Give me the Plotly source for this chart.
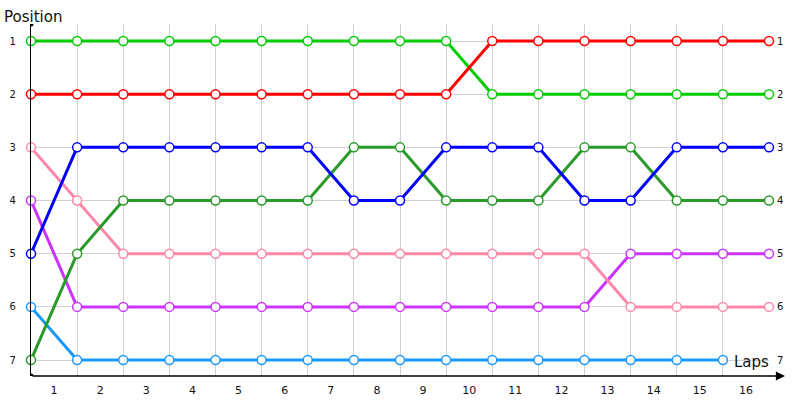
import plotly.graph_objects as go

# ---- data ----
points = list(range(17))          # 0 = grid, k = after lap k
lap_labels = [str(i) for i in range(1, 17)]
positions = [1, 2, 3, 4, 5, 6, 7]

light_green = [1, 1, 1, 1, 1, 1, 1, 1, 1, 1, 2, 2, 2, 2, 2, 2, 2]
red = [2, 2, 2, 2, 2, 2, 2, 2, 2, 2, 1, 1, 1, 1, 1, 1, 1]
blue = [5, 3, 3, 3, 3, 3, 3, 4, 4, 3, 3, 3, 4, 4, 3, 3, 3]
dark_green = [7, 5, 4, 4, 4, 4, 4, 3, 3, 4, 4, 4, 3, 3, 4, 4, 4]
pink = [3, 4, 5, 5, 5, 5, 5, 5, 5, 5, 5, 5, 5, 6, 6, 6, 6]
purple = [4, 6, 6, 6, 6, 6, 6, 6, 6, 6, 6, 6, 6, 5, 5, 5, 5]
light_blue = [6, 7, 7, 7, 7, 7, 7, 7, 7, 7, 7, 7, 7, 7, 7, 7, None]

series = [
    (light_blue, "#1a99ff"),
    (purple, "#cc33ff"),
    (pink, "#ff88a8"),
    (dark_green, "#2a9a2a"),
    (blue, "#0000ff"),
    (light_green, "#00cc00"),
    (red, "#ff0000"),
]

FONT = "DejaVu Sans"

fig = go.Figure()
for vals, col in series:
    fig.add_trace(go.Scatter(
        x=points, y=vals, mode="lines+markers",
        line=dict(color=col, width=3),
        marker=dict(symbol="circle", size=9, color="white",
                    line=dict(color=col, width=1.5)),
        cliponaxis=False, showlegend=False, hoverinfo="skip",
    ))

annotations = []
# right-side position labels
for p in positions:
    annotations.append(dict(
        x=1, xref="paper", y=p, yref="y", text=str(p), showarrow=False,
        xanchor="left", yanchor="middle", xshift=6,
        font=dict(family=FONT, size=10, color="#111111")))
# axis titles
annotations.append(dict(
    x=0, xref="paper", y=1, yref="paper", text="Position", showarrow=False,
    xanchor="left", yanchor="bottom", xshift=-29, yshift=-4,
    font=dict(family=FONT, size=15, color="#111111")))
annotations.append(dict(
    x=1, xref="paper", y=0, yref="paper", text="Laps", showarrow=False,
    xanchor="right", yanchor="bottom", xshift=2, yshift=3,
    font=dict(family=FONT, size=15, color="#111111")))
# x axis line with arrow
annotations.append(dict(
    x=1, xref="paper", y=0, yref="paper", text="", showarrow=True,
    ax=-754, ay=0, axref="pixel", ayref="pixel", xshift=16,
    arrowhead=2, arrowsize=1.3, arrowwidth=1.4, arrowcolor="black"))

fig.update_layout(
    template="none",
    width=800, height=400,
    margin=dict(l=31, r=31, t=24, b=24),
    paper_bgcolor="white", plot_bgcolor="white",
    font=dict(family=FONT, size=11, color="#111111"),
    annotations=annotations,
    xaxis=dict(
        range=[0, 16], tickmode="array", automargin=False,
        tickvals=[i + 0.5 for i in range(16)], ticktext=lap_labels,
        showgrid=False, zeroline=False, showline=False, ticks="",
        ticklabelstandoff=6,
        tickfont=dict(family=FONT, size=11, color="#111111"),
        minor=dict(tickmode="array", tickvals=points, showgrid=True,
                   gridcolor="#d0d0d0", gridwidth=1, ticks=""),
    ),
    yaxis=dict(
        range=[7.30, 0.68], tickmode="array", tickvals=positions,
        automargin=False,
        ticktext=[str(p) for p in positions],
        showgrid=True, gridcolor="#d0d0d0", gridwidth=1,
        zeroline=False, showline=True, linecolor="black", linewidth=1.3,
        ticks="", ticklabelstandoff=12,
        tickfont=dict(family=FONT, size=10, color="#111111"),
    ),
    shapes=[
        dict(type="circle", xref="x", yref="y", xsizemode="pixel",
             ysizemode="pixel", xanchor=0, yanchor=0.68,
             x0=-2.5, x1=2.5, y0=-2.5, y1=2.5,
             fillcolor="black", line=dict(width=0)),
        dict(type="circle", xref="x", yref="y", xsizemode="pixel",
             ysizemode="pixel", xanchor=0, yanchor=7.30,
             x0=-2.5, x1=2.5, y0=-2.5, y1=2.5,
             fillcolor="black", line=dict(width=0)),
    ],
)

fig.write_html(
    "out.html",
    config={"displayModeBar": False},
    post_script="document.body.style.margin='0';document.body.style.overflow='hidden';",
)
